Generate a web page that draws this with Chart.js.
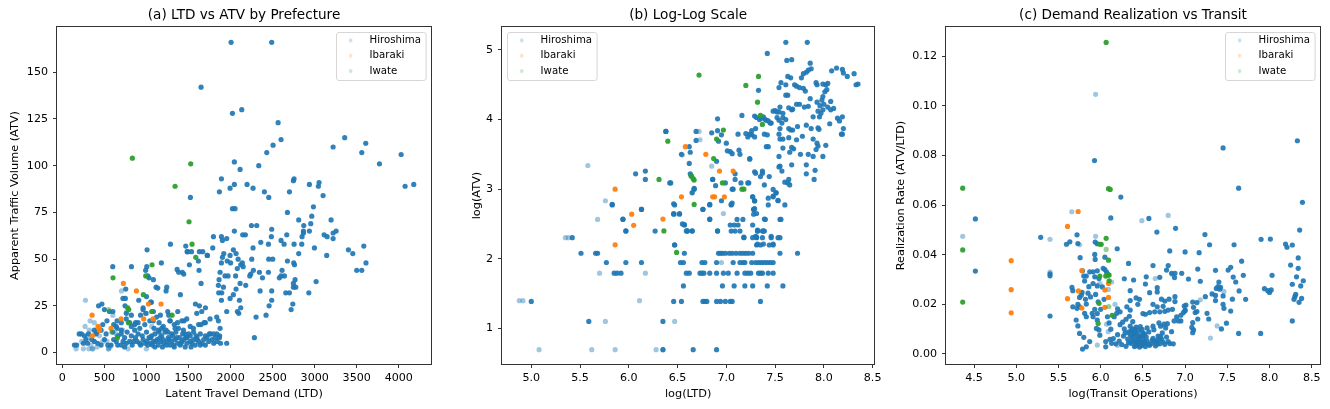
<!DOCTYPE html>
<html><head><meta charset="utf-8">
<script src="https://cdn.jsdelivr.net/npm/chart.js@4.4.1/dist/chart.umd.min.js"></script>
<style>html,body{margin:0;padding:0;background:#fff;}#wrap{position:relative;width:1330px;height:409px;overflow:hidden;background:#fff;}canvas{position:absolute;top:0;}</style>
</head><body><div id="wrap">
<canvas id="ca" width="440" height="409" style="left:0px"></canvas>
<canvas id="cb" width="445" height="409" style="left:440px"></canvas>
<canvas id="cc" width="445" height="409" style="left:885px"></canvas>
</div>
<script>
// ---------- category names ----------
const legendNames = ['Hiroshima', 'Ibaraki', 'Iwate'];

// ---------- panel (a): LTD vs ATV ----------
const aHiroshima = [[2006,166],[2489,166],[1649,142],[2022,128],[2133,130],[2565,123],[2600,114],[2505,111],[2430,107],[3357,115],[3219,110],[3607,112],[3560,107],[3770,101],[4028,106],[2045,102],[2335,100],
[4075,89],[4178,90],[2113,98],[1891,93],[2045,90],[1994,88],[2196,90],[2267,88],[1867,86],[2402,86],[2747,92],[2755,93],[2700,86],[2937,90],[3052,91],[3044,89],
[2454,83],[1522,83],[2022,77],[2053,77],[2676,75],[3100,84],[2985,78],[2965,73],[3195,71],[2810,71],
[2953,69],[2870,68],[2248,68],[2311,68],[2045,65],[2144,63],[2176,63],[2489,66],[2485,62],[2600,60],[2668,63],[2866,65],[2866,64],[2850,62],[2937,65],[3112,63],[3148,62],[3219,64],[3255,65],[3219,61],[1796,62],[1891,62],[1954,61],[1903,60],
[2846,58],[2755,58],[2636,58],[2450,58],[2359,59],[1788,56],[1919,53],[1994,52],[2267,56],[2252,50],[2454,50],[1285,58],[1483,54],[1535,54],[1669,54],[1723,52],[1007,55],
[2997,56],[3143,52],[2676,49],[2751,48],[2760,47],[2810,53],[3401,55],[3453,53],[3584,57],[3500,44],[3560,44],[3610,48],[2930,32],[3017,38],[2700,32],[2720,23],[2740,26],[2747,37],[2767,39],[2747,35],[2775,35],[2640,41],[2612,44],[2600,41],[2656,32],[2580,40],[2489,33],[2489,28],[2458,25],[2422,20],[2303,19],[2283,8],[2351,33],[2343,43],[2379,40],[2450,43],[2501,50],[2240,42],[2228,41],[2271,44],[2180,36],[2113,37],[2065,34],[2033,31],[2105,28],[2081,22],[2097,21],[2121,24],[1994,29],[1954,22],[1954,5],[1891,28],[1915,35],[1855,36],[1934,41],[1970,41],[1875,43],[1863,39],[1891,48],[1903,51],[1895,32],[1859,32],[2033,55],[2065,53],[2090,50],[2120,47],[2140,48],[2150,46],[2080,45],[2060,41],[2000,48],[1960,49],
[1003,46],[1015,41],[1082,39],[1114,35],[1134,34.5],[1241,35],[1233,33],[1177,48],[1364,44.5],[1383,43],[1427,43],[1443,42],[1403,31],[1467,57],[1490,54],[1510,47],[1629,54],[1617,49],[1625,44],[1649,37],[1724,52],[821,46],[599,46],[753,34],[749,29],[745,25],[908,28],[959,23],[991,21],[1058,27],[1082,22],[1165,20],[1253,22],[1265,20],[1372,22],[1280,17],[1368,16],[1233,12],[1181,13],[1150,11],[1256,11],[1300,10],[1340,13],[1439,12],[1459,10],[1503,10],[1558,13],[1649,15],[1685,16],[1756,18],[1835,19],[1855,17],[1875,13],[1748,10],[1796,10],[1835,10],[1867,8],[1479,18],[1447,17],[1629,25],[1582,26],[1598,21],[1657,22],[1701,24],
[1000,30],[990,44],[1030,40],[1050,27],[1080,17],[1120,19],[470,26],[430,25],[500,23],[530,17],[560,22],[610,15],[650,13],[600,22],[650,17],[700,12],[720,29],[760,21],[800,16],[820,20],[860,15],[900,16],[930,20],[960,24],
[143,4],[460,4],[579,4],[658,4],[722,6],[849,6],[888,6],[920,5],[1007,6],[1055,5],[1086,6],[1126,7],[1166,6],[1205,5],[1245,6],[1300,6],[1340,7],[1370,5],[1420,6],[1480,5],[1520,6],[1580,4],[1620,6],[1660,5],[1700,4],[1740,6],[1800,5],[1840,6],[1880,5],[1240,4],[1100,3],[1015,4],[1140,4],[1280,4],[1400,4],[1440,7],[1560,7],[1600,7],[1480,8],[960,7],[930,4],[800,6],[760,5],[700,4],[640,6],[540,4],[500,7],[420,5],[380,6],[300,5],
[1030,8],[1070,4],[1160,8],[1190,3],[1270,7],[1320,4],[1360,8],[1410,5],[1460,3],[1540,5],[1590,9],[1640,4],[1680,7],[1720,8],[1780,7],[1530,3],[1330,3],[1200,7],[1110,6],[1060,9],[980,5],[870,8],[830,4],[740,3],[610,7],
[226,10],[262,9],[400,10],[460,12],[520,10],[600,11],[660,9],[700,10],[740,8],[770,11],[820,9],[860,12],[900,10],[950,9],[1000,11],[1050,8],[1100,10],[1140,12],[1180,9],[1220,11],[1260,8],[1310,9],[1350,11],[1390,8],[1430,10],[1470,8],[1520,9],[1560,11],[1600,8],[1640,10],[1700,9],[1760,10],[1820,8],[1870,9],
[480,15],[640,14],[700,16],[760,18],[820,14],[870,16],[920,13],[980,15],[1040,17],[1090,13],[1150,16],[1200,14],[1280,17],[1330,15],[1380,13],[1420,17],[1520,14],[1620,15],[1700,16],[380,12],[410,11],[350,7],[310,10],[280,7],[200,10],[170,4],[250,5]];
const aHiroshimaFaint = [[274,28],[163,2],[357,2],[547,2],[567,3],[717,12],[702,33],[765,22],[1003,21],[1062,14],[329,17],[250,2],[314,2],[361,2],[551,2],[781,2],[999,2],[300,8],[320,12],[270,14],[440,9],[600,20],[530,6],[640,10],[380,16],[230,6],[340,4],[480,6],[410,3]];
const aIbaraki = [[725,37],[880,33],[353,20],[424,14],[436,13],[357,9],[579,13],[698,18],[967,18],[1023,26],[1078,18],[1173,26],[440,12]];
const aIwate = [[832,104],[1526,101],[1340,89],[1506,70],[1542,58],[1586,51],[602,40],[991,41],[1066,47],[963,31],[777,24],[789,23],[785,16],[654,8],[1062,22],[1304,20]];
const aIwateFaint = [[551,23],[587,11]];

// ---------- panel (b): log-log ----------
const bHiroshima = [[5.0,1.386],[6.35,1.099],[5.59,1.099],[6.90,0.693],[6.66,0.693],[6.35,0.693],
[6.46,1.386],[6.54,1.386],[6.76,1.386],[6.78,1.386],[6.80,1.386],[6.90,1.386],[6.94,1.386],[6.99,1.386],[7.04,1.386],[7.06,1.386],[7.35,1.386],
[6.56,1.609],[6.96,1.609],[7.08,1.609],[7.19,1.609],[7.27,1.609],[7.42,1.609],[7.58,1.609],
[5.85,1.792],[5.88,1.792],[5.92,1.792],[6.59,1.792],[6.62,1.792],[6.73,1.792],[6.75,1.792],[6.77,1.792],[6.83,1.792],[6.90,1.792],[6.97,1.792],[7.02,1.792],[7.11,1.792],[7.19,1.792],[7.22,1.792],[7.25,1.792],[7.33,1.792],[7.35,1.792],[7.37,1.792],[7.43,1.792],[7.48,1.792],
[5.77,1.946],[5.97,1.946],[6.13,1.946],[6.53,1.946],[6.56,1.946],[6.75,1.946],[6.78,1.946],[6.90,1.946],[7.07,1.946],[7.14,1.946],[7.17,1.946],[7.19,1.946],[7.26,1.946],[7.30,1.946],[7.33,1.946],[7.36,1.946],[7.39,1.946],[7.42,1.946],[7.45,1.946],[7.48,1.946],
[5.51,2.079],[5.66,2.079],[5.68,2.079],[6.57,2.079],[6.92,2.079],[6.94,2.079],[6.96,2.079],[6.99,2.079],[7.03,2.079],[7.06,2.079],[7.10,2.079],[7.14,2.079],[7.17,2.079],[7.20,2.079],[7.23,2.079],[7.27,2.079],[7.55,2.079],[7.73,2.079],
[6.47,2.197],[7.31,2.197],[7.35,2.197],[7.44,2.197],[7.48,2.197],
[5.42,2.303],[7.18,2.303],[7.27,2.303],[7.31,2.303],[7.37,2.303],[7.46,2.303],[7.53,2.303],[7.55,2.303],
[5.97,2.398],[6.27,2.398],[6.60,2.398],[6.65,2.398],[6.91,2.398],[7.05,2.398],[7.09,2.398],[7.14,2.398],[7.32,2.398],[7.37,2.398],[7.39,2.398],
[6.57,2.485],[7.04,2.485],[7.08,2.485],[7.12,2.485],[7.27,2.485],
[5.94,2.565],[6.83,2.565],[7.11,2.565],[7.17,2.565],[7.40,2.565],[7.55,2.565],[7.56,2.565],
[6.46,2.639],[6.52,2.639],[7.28,2.639],[6.13,2.708],[6.76,2.708],[7.28,2.708],
[5.83,2.773],[6.47,2.773],[6.83,2.773],[7.05,2.773],[7.43,2.773],[7.60,2.773],
[6.95,2.833],[7.29,2.833],[7.53,2.833],[7.27,2.890],[7.48,2.890],[7.51,2.944],
[7.06,3.0],[7.48,2.996],[6.67,3.0],[6.65,2.95],[6.67,3.01],
[6.43,3.09],[6.89,3.05],[6.99,3.09],[7.15,3.09],[7.23,3.09],[7.63,3.09],[7.65,3.06],[7.60,3.10],[7.39,3.06],[7.44,3.18],
[6.17,3.14],[6.86,3.14],[7.09,3.14],[7.64,3.14],[7.90,3.14],[7.82,3.22],
[6.07,3.22],[6.63,3.22],[6.64,3.19],[7.09,3.22],[6.17,3.26],[7.37,3.26],[7.37,3.23],[7.57,3.26],[7.91,3.27],[7.30,3.23],[7.29,3.25],[7.35,3.18],
[7.55,3.33],[7.82,3.35],[7.67,3.35],[7.54,3.32],[6.90,3.40],[7.24,3.43],
[6.54,3.50],[6.63,3.53],[7.01,3.55],[7.04,3.54],[7.06,3.51],[7.13,3.56],[7.14,3.50],[7.76,3.50],[7.84,3.50],[7.54,3.47],[7.89,3.47],[7.99,3.47],[7.65,3.53],[6.62,3.37],
[6.62,3.61],[7.43,3.61],[7.41,3.61],[7.67,3.60],[7.69,3.58],[7.58,3.59],[7.93,3.66],[7.94,3.62],[7.92,3.57],[8.02,3.63],
[6.69,3.70],[6.92,3.69],[7.0,3.66],[7.55,3.72],[7.58,3.72],[7.64,3.74],[7.72,3.71],[7.89,3.72],[7.78,3.76],
[6.38,3.83],[6.69,3.83],[6.85,3.81],[6.91,3.84],[6.95,3.78],[7.12,3.79],[7.20,3.80],[7.22,3.75],[7.26,3.78],[7.24,3.79],[7.29,3.75],[7.39,3.79],[7.42,3.78],[7.54,3.79],[8.18,3.79],[8.19,3.79],[8.20,3.87],
[7.26,3.84],[7.30,3.87],[7.46,3.95],[7.43,3.98],[7.55,3.87],[7.57,3.95],[7.64,3.87],[7.66,3.85],[7.68,3.85],[7.73,3.90],[7.82,3.92],[7.87,3.87],[7.94,3.88],[7.95,3.86],[8.06,3.94],[8.16,3.98],
[6.91,4.01],[7.16,4.06],[7.29,4.05],[7.31,4.03],[7.34,4.0],[7.36,4.02],[7.38,4.04],[7.40,4.0],[7.41,3.99],[7.45,3.95],[7.48,4.12],[7.52,4.11],[7.55,4.18],[7.58,4.09],[7.52,4.03],[7.54,3.99],[7.58,4.03],[7.61,4.0],[7.89,4.04],[7.955,4.04],[7.97,4.09],[7.99,4.14],[8.14,4.02],[8.19,4.04],[8.07,4.14],[8.10,4.16],[8.07,4.26],
[7.50,4.13],[7.54,4.11],[7.64,4.17],[7.67,4.14],[7.68,4.15],[7.72,4.22],[7.75,4.22],[7.80,4.18],[7.84,4.19],[7.61,4.35],[7.63,4.35],[7.33,4.42],[7.99,4.33],[8.01,4.40],[7.93,4.25],[7.96,4.20],[7.98,4.28],[8.0,4.22],[7.94,4.12],[8.04,4.18],[7.86,4.30],[7.81,4.41],
[7.54,4.46],[7.56,4.53],[7.61,4.50],[7.70,4.50],[7.72,4.48],[7.75,4.46],[7.79,4.45],[7.92,4.53],[7.93,4.50],[7.99,4.51],[8.02,4.50],[8.04,4.52],[8.03,4.43],[8.33,4.50],[8.35,4.51],[7.77,4.60],[7.63,4.62],[7.66,4.60],[8.08,4.70],[8.13,4.74],[8.19,4.72],[8.20,4.67],[8.24,4.62],[8.31,4.66],[7.84,4.71],[7.82,4.68],[7.79,4.66],[7.87,4.73],[7.86,4.81],[7.62,4.85],[7.67,4.86],[7.42,4.95],[7.61,5.11],[7.83,5.11],
[5.97,2.40],[5.94,2.57],[6.13,2.71],[5.83,2.78],[6.47,2.20],[6.46,2.65],[6.52,2.65],[6.57,2.49],[6.60,2.40],[6.65,2.40],[6.76,2.71],[6.83,2.78],[7.05,2.78],[6.91,2.40],[6.83,2.57],[7.18,2.31],[7.27,2.89],[7.29,2.83],[7.28,2.71],[7.32,2.40],[7.31,2.31],[6.86,3.14],[7.07,3.0],[7.06,2.80],[7.22,3.09],[7.43,2.87],[7.53,2.84],[7.29,2.72],[7.31,2.65],[7.39,2.57],[7.32,2.41],[7.38,2.40],[7.30,2.32],[7.46,2.32],[7.32,2.21],[7.38,2.21],[7.48,2.21],[7.48,2.90],[7.51,2.95],[7.24,3.44],[6.42,3.09],[6.38,3.83],[6.46,2.79],[6.55,2.50],[6.59,2.40]];
const bHiroshimaFaint = [[4.877,1.397],[4.915,1.397],[5.08,0.693],[5.62,0.693],[5.86,0.693],[6.28,0.693],[5.76,1.099],[6.47,1.099],[6.11,1.397],[5.70,1.792],[6.17,1.792],[5.35,2.303],[5.38,2.303],[5.68,2.565],[5.76,2.833],[5.58,3.34],[6.97,2.65],[6.95,1.946],[6.65,2.944],[6.67,3.0],[6.13,2.71],[6.35,0.693],[6.47,2.64],[6.72,3.83],[6.55,3.49],[6.73,3.71],[6.85,3.33]];
const bIbaraki = [[6.58,3.61],[6.79,3.50],[5.86,3.0],[6.03,2.64],[6.05,2.48],[5.86,2.20],[6.35,2.57],[6.54,2.89],[6.86,2.89],[6.88,2.89],[6.98,2.89],[6.93,3.26],[7.07,3.26]];
const bIwate = [[6.72,4.64],[7.20,4.49],[7.33,4.62],[7.32,4.25],[7.35,4.06],[7.37,3.93],[6.40,3.69],[6.90,3.72],[6.97,3.85],[6.87,3.44],[6.31,3.14],[6.64,3.19],[6.66,3.15],[6.67,3.13],[6.96,3.09],[7.16,3.0],[7.18,3.0],[6.67,2.78],[6.36,2.40],[6.49,2.09]];

// ---------- panel (c): realization rate vs transit ----------
const cHiroshima = [[4.516,0.0544],[4.516,0.0334],[5.40,0.0315],[5.40,0.0323],[5.40,0.0153],[5.29,0.0470],[5.927,0.0779],[6.239,0.0632],[6.12,0.0548],[6.571,0.0546],[6.666,0.0491],[6.887,0.0506],[6.818,0.0415],[7.0,0.0411],[7.166,0.0408],[7.235,0.0481],[7.29,0.0440],[7.45,0.0830],[7.634,0.0668],[8.33,0.0859],[8.39,0.0611],[8.357,0.0499],[7.58,0.0440],[7.67,0.0374],[7.90,0.0462],[8.01,0.0463],[8.19,0.0443],[8.207,0.0430],[8.27,0.0439],[8.25,0.0358],[8.34,0.0387],[8.34,0.0345],[8.32,0.0311],[8.40,0.0295],[8.37,0.0274],[8.27,0.0281],[8.31,0.0240],[8.30,0.0231],[8.29,0.0220],[8.38,0.0224],[8.35,0.0208],[8.27,0.0133],[7.895,0.0083],[7.94,0.0263],[7.98,0.0255],[8.0,0.0248],[8.02,0.0258],[8.03,0.0317],[7.634,0.0083],[7.717,0.0220],[7.69,0.0317],[7.64,0.0254],[7.57,0.0310],[7.51,0.0338],[7.54,0.0349],[7.36,0.0337],[7.15,0.0342],[7.04,0.0302],[7.18,0.0293],[7.40,0.0290],[7.60,0.0290],[7.37,0.0264],[7.39,0.0271],[7.42,0.0268],[7.41,0.0261],[7.32,0.0242],[7.36,0.0236],[7.45,0.0234],[7.56,0.0221],[7.36,0.0215],[7.24,0.0231],[7.09,0.0209],[7.14,0.0207],[7.01,0.0197],[7.10,0.0188],[6.98,0.0167],[7.0,0.0174],[7.12,0.0167],[7.14,0.0171],[7.15,0.0141],[7.09,0.0126],[7.08,0.0107],[7.10,0.0097],[7.09,0.0086],[7.45,0.0200],[7.46,0.0184],[7.54,0.0173],[7.26,0.0164],[7.28,0.0141],[7.49,0.0124],[7.43,0.0101],
[5.595,0.0442],[5.635,0.0452],[5.72,0.0480],[5.73,0.0445],[5.935,0.0451],[5.96,0.0444],[6.196,0.0424],[5.757,0.0388],[5.93,0.0401],[5.935,0.0381],[5.66,0.0268],[5.67,0.0255],[5.75,0.0228],[5.77,0.0237],[5.785,0.0335],[5.80,0.0314],[5.83,0.0314],[5.87,0.0331],[5.91,0.0331],[5.93,0.0311],[5.96,0.0335],[5.98,0.0304],[5.81,0.0294],[5.86,0.0271],[5.91,0.0284],[5.96,0.0274],[5.82,0.0220],[5.83,0.0201],[5.75,0.0190],[5.67,0.0190],[5.72,0.0184],[5.81,0.0164],[5.83,0.0150],[5.90,0.0164],[5.91,0.0150],[5.96,0.0137],[5.71,0.0137],[5.73,0.0113],[5.75,0.0083],[5.80,0.0067],[5.87,0.0050],[5.83,0.0029],[5.785,0.0020],[6.06,0.0050],[6.06,0.0029],[6.11,0.0059],[6.13,0.0043],[5.99,0.0076],[5.98,0.0097],[5.95,0.0103],[6.03,0.0345],[6.05,0.0340],[6.07,0.0330],[6.09,0.0320],[6.05,0.0390],[6.02,0.0270],[6.04,0.0220],[6.08,0.0150],[6.12,0.0100],[6.10,0.0125],[5.94,0.0240],[5.97,0.0210],[5.88,0.0230],[5.85,0.0245],[5.78,0.0248],[5.73,0.0200],[5.93,0.0180],[5.96,0.0163],[6.0,0.0180],
[6.33,0.0365],[6.62,0.0356],[6.80,0.0356],[6.96,0.0325],[6.875,0.0308],[6.78,0.0338],[6.84,0.0325],[6.88,0.0325],[6.70,0.0309],[6.53,0.0282],[6.39,0.0298],[6.28,0.0303],[6.35,0.0255],[6.46,0.0220],[6.35,0.0215],[6.54,0.0311],[6.58,0.0247],[6.67,0.0267],[6.67,0.0250],[6.72,0.0221],[6.76,0.0213],[6.81,0.0221],[6.88,0.0231],[6.88,0.0211],[6.99,0.0193],[7.0,0.0177],[6.58,0.0167],[6.64,0.0170],[6.70,0.0170],[6.76,0.0172],[6.80,0.0177],[6.35,0.0177],[6.31,0.0190],[6.23,0.0170],[6.20,0.0182],[6.19,0.0164],[6.16,0.0150],[6.42,0.0226],[6.44,0.0200],[6.50,0.0163],[6.53,0.0160],[6.62,0.0200],[6.67,0.0190],[6.74,0.0192],[6.85,0.0180],[6.90,0.0150],[6.87,0.0133],[6.92,0.0133],[6.95,0.0156],[6.95,0.0133],
[6.15,0.0062],[6.18,0.0041],[6.20,0.0078],[6.22,0.0052],[6.23,0.0118],[6.25,0.0038],[6.26,0.0128],[6.27,0.0072],[6.28,0.0101],[6.30,0.0031],[6.30,0.0140],[6.32,0.0060],[6.33,0.0088],[6.34,0.0152],[6.35,0.0112],[6.36,0.0043],[6.37,0.0069],[6.38,0.0100],[6.38,0.0130],[6.39,0.0051],[6.40,0.0030],[6.41,0.0082],[6.42,0.0108],[6.43,0.0058],[6.44,0.0040],[6.45,0.0093],[6.46,0.0028],[6.47,0.0071],[6.48,0.0049],[6.49,0.0099],[6.50,0.0038],[6.51,0.0061],[6.52,0.0080],[6.53,0.0030],[6.55,0.0052],[6.57,0.0089],[6.60,0.0042],[6.62,0.0063],[6.63,0.0098],[6.65,0.0033],[6.66,0.0054],[6.68,0.0072],[6.70,0.0041],[6.71,0.0112],[6.72,0.0060],[6.74,0.0048],[6.75,0.0120],[6.76,0.0039],[6.78,0.0068],[6.80,0.0050],[6.82,0.0042],[6.84,0.0090],[6.86,0.0041],[6.42,0.0034],[6.45,0.0061],[6.40,0.0071],[6.36,0.0093],[6.47,0.0110],[6.51,0.0045],[6.58,0.0035],[6.64,0.0048],[6.69,0.0058],[6.73,0.0085],[6.77,0.0105],[6.79,0.0122],[6.43,0.0048],[6.49,0.0072],
[6.37,0.0055],[6.39,0.0086],[6.41,0.0040],[6.44,0.0075],[6.46,0.0052],[6.48,0.0033],[6.50,0.0085],[6.52,0.0047],[6.54,0.0068],[6.41,0.0098],[6.35,0.0078],[6.33,0.0045],[6.29,0.0085],[6.56,0.0040],[6.61,0.0055],[6.67,0.0040],[6.71,0.0070],[6.62,0.0112],[6.69,0.0125],[6.55,0.0105]];
const cHiroshimaFaint = [[4.366,0.0474],[5.40,0.0462],[5.658,0.0573],[5.94,0.1046],[6.488,0.0537],[6.646,0.0304],[7.30,0.0064],[6.80,0.0558],[5.94,0.0474],[5.75,0.0440],[5.40,0.0330],[6.17,0.0200],[6.09,0.0260],[5.96,0.0036],[6.09,0.0090],[6.20,0.0035],[6.85,0.0320],[7.38,0.0113],[7.46,0.0252],[7.18,0.0218],[6.13,0.0290],[5.99,0.0285],[6.07,0.0120]];
const cIbaraki = [[4.94,0.0376],[4.94,0.0259],[4.94,0.0166],[5.607,0.0514],[5.733,0.0574],[5.607,0.0223],[5.737,0.0254],[5.777,0.0336],[5.777,0.0185],[6.05,0.0258],[6.093,0.0284],[6.093,0.0228],[6.05,0.0188]];
const cIwate = [[4.366,0.0668],[4.366,0.0419],[4.366,0.0209],[6.065,0.1255],[6.093,0.0666],[6.113,0.0663],[6.065,0.0466],[6.093,0.0378],[5.99,0.0442],[6.006,0.0442],[6.085,0.0318],[6.10,0.0318],[6.06,0.0314],[5.99,0.0314],[6.10,0.0295],[5.98,0.0204],[6.136,0.0156],[5.97,0.0123]];
const cIwateFaint = [[6.065,0.0421],[6.097,0.0191]];

// ---------- tick values and labels ----------
const aXTicks = [0,500,1000,1500,2000,2500,3000,3500,4000];
const aXLabels = ['0','500','1000','1500','2000','2500','3000','3500','4000'];
const aYTicks = [0,25,50,75,100,125,150];
const aYLabels = ['0','25','50','75','100','125','150'];
const bXTicks = [5.0,5.5,6.0,6.5,7.0,7.5,8.0,8.5];
const bXLabels = ['5.0','5.5','6.0','6.5','7.0','7.5','8.0','8.5'];
const bYTicks = [1,2,3,4,5];
const bYLabels = ['1','2','3','4','5'];
const cXTicks = [4.5,5.0,5.5,6.0,6.5,7.0,7.5,8.0,8.5];
const cXLabels = ['4.5','5.0','5.5','6.0','6.5','7.0','7.5','8.0','8.5'];
const cYTicks = [0,0.02,0.04,0.06,0.08,0.10,0.12];
const cYLabels = ['0.00','0.02','0.04','0.06','0.08','0.10','0.12'];

// ---------- styling ----------
Chart.defaults.font.family = "'DejaVu Sans', sans-serif";
Chart.defaults.color = '#000';
const COL = {
  hiro: 'rgba(31,119,180,0.92)', hiroFaint: 'rgba(31,119,180,0.42)',
  iba: 'rgba(255,127,14,0.95)', iwa: 'rgba(44,160,44,0.95)', iwaFaint: 'rgba(44,160,44,0.5)'
};
const LEG_COL = ['rgba(31,119,180,0.25)','rgba(255,127,14,0.25)','rgba(44,160,44,0.25)'];

function legendDot(c) {
  const cv = document.createElement('canvas');
  cv.width = 24; cv.height = 8;
  const g = cv.getContext('2d');
  g.fillStyle = c; g.beginPath(); g.arc(3.2, 4, 1.9, 0, Math.PI * 2); g.fill();
  return cv;
}
const legendDots = LEG_COL.map(legendDot);

function ds(label, pts, color, order) {
  return { label, data: pts.map(p => ({x: p[0], y: p[1]})), backgroundColor: color,
    borderWidth: 0, pointRadius: 2.6, pointHoverRadius: 2.6, order };
}

const framePlugin = {
  id: 'frames',
  beforeDraw(chart) {
    const o = chart.options.plugins.frames;
    const ca = chart.chartArea, lg = chart.legend, ctx = chart.ctx;
    const fw = 89.6, fh = 48;
    const fl = o.corner === 'left' ? ca.left + 5 : ca.right - 5.5 - fw;
    const ft = ca.top + 5;
    const textX = fl + 33.6;
    lg.left = textX - 20.5; lg.right = lg.left + lg.width;
    lg.top = ft - 2; lg.bottom = ca.bottom;
    ctx.save();
    ctx.beginPath();
    const x = Math.round(fl) + 0.5, y = Math.round(ft) + 0.5, r = 2.5;
    ctx.moveTo(x + r, y); ctx.lineTo(x + fw - r, y); ctx.arcTo(x + fw, y, x + fw, y + r, r);
    ctx.lineTo(x + fw, y + fh - r); ctx.arcTo(x + fw, y + fh, x + fw - r, y + fh, r);
    ctx.lineTo(x + r, y + fh); ctx.arcTo(x, y + fh, x, y + fh - r, r);
    ctx.lineTo(x, y + r); ctx.arcTo(x, y, x + r, y, r); ctx.closePath();
    ctx.fillStyle = 'rgba(255,255,255,0.8)'; ctx.fill();
    ctx.strokeStyle = '#d6d6d6'; ctx.lineWidth = 1; ctx.stroke();
    ctx.restore();
  },
  afterDraw(chart) {
    const ca = chart.chartArea, ctx = chart.ctx;
    ctx.save();
    ctx.strokeStyle = '#333'; ctx.lineWidth = 1;
    ctx.strokeRect(Math.round(ca.left) - 0.5, Math.round(ca.top) - 0.5,
      Math.round(ca.right) - Math.round(ca.left) + 1, Math.round(ca.bottom) - Math.round(ca.top) + 1);
    ctx.restore();
  }
};

function axis(min, max, ticks, labels, title, titlePad, fitSize, horizontal, tickPad) {
  return {
    type: 'linear', min, max,
    afterBuildTicks: s => { s.ticks = ticks.map(v => ({value: v})); },
    afterFit: s => { if (horizontal) s.height = fitSize; else s.width = fitSize; },
    ticks: { autoSkip: false, maxRotation: 0, padding: tickPad, color: '#000', font: {size: 11.1},
      callback: (v) => { const k = ticks.findIndex(t => Math.abs(t - v) < 1e-9); return k >= 0 ? labels[k] : ''; } },
    grid: { display: true, drawOnChartArea: false, drawTicks: true, tickLength: 4, color: '#333', lineWidth: 1 },
    border: { display: false },
    title: { display: true, text: title, color: '#000', font: {size: 11.3},
      padding: horizontal ? {top: 0, bottom: titlePad} : {top: titlePad, bottom: 0} }
  };
}

function makeChart(id, p) {
  return new Chart(document.getElementById(id), {
    type: 'scatter',
    data: { datasets: [
      ds(legendNames[0], p.hiroFaint, COL.hiroFaint, 5),
      ds(legendNames[0], p.hiro, COL.hiro, 4),
      ds(legendNames[1], p.iba, COL.iba, 2),
      ds(legendNames[2], p.iwaFaint, COL.iwaFaint, 1),
      ds(legendNames[2], p.iwa, COL.iwa, 0)
    ]},
    options: {
      responsive: false, animation: false, events: [],
      layout: { padding: { left: 0, right: p.rightPad, top: 0, bottom: 0 } },
      scales: {
        x: axis(p.xr[0], p.xr[1], p.xt, p.xl, p.xTitle, 7.9, 45, true, 3.5),
        y: axis(p.yr[0], p.yr[1], p.yt, p.yl, p.yTitle, p.yTitlePad, p.yW, false, 5)
      },
      plugins: {
        title: { display: true, text: p.title, fullSize: false, color: '#000',
          font: {size: 13.6, weight: 'normal'}, padding: {top: 7.1, bottom: 3.6} },
        legend: { display: true, position: 'chartArea', align: 'start',
          labels: { usePointStyle: true, padding: 5.2, color: '#000', font: {size: 10.2},
            generateLabels: () => legendNames.map((n, k) => ({ text: n, pointStyle: legendDots[k],
              fillStyle: 'rgba(0,0,0,0)', strokeStyle: 'rgba(0,0,0,0)', lineWidth: 0, hidden: false, datasetIndex: k })) } },
        tooltip: { enabled: false },
        frames: { corner: p.corner }
      }
    },
    plugins: [framePlugin]
  });
}

makeChart('ca', { hiro: aHiroshima, hiroFaint: aHiroshimaFaint, iba: aIbaraki, iwa: aIwate, iwaFaint: aIwateFaint,
  xr: [-64, 4383], yr: [-6.1, 174.2], xt: aXTicks, xl: aXLabels, yt: aYTicks, yl: aYLabels,
  title: '(a) LTD vs ATV by Prefecture', xTitle: 'Latent Travel Demand (LTD)', yTitle: 'Apparent Traffic Volume (ATV)',
  yTitlePad: 8.5, yW: 57, rightPad: 9, corner: 'right' });
makeChart('cb', { hiro: bHiroshima, hiroFaint: bHiroshimaFaint, iba: bIbaraki, iwa: bIwate, iwaFaint: [],
  xr: [4.70, 8.517], yr: [0.487, 5.33], xt: bXTicks, xl: bXLabels, yt: bYTicks, yl: bYLabels,
  title: '(b) Log-Log Scale', xTitle: 'log(LTD)', yTitle: 'log(ATV)',
  yTitlePad: 29.9, yW: 62, rightPad: 10, corner: 'left' });
makeChart('cc', { hiro: cHiroshima, hiroFaint: cHiroshimaFaint, iba: cIbaraki, iwa: cIwate, iwaFaint: cIwateFaint,
  xr: [4.168, 8.598], yr: [-0.00403, 0.1317], xt: cXTicks, xl: cXLabels, yt: cYTicks, yl: cYLabels,
  title: '(c) Demand Realization vs Transit', xTitle: 'log(Transit Operations)', yTitle: 'Realization Rate (ATV/LTD)',
  yTitlePad: 9.2, yW: 61, rightPad: 10, corner: 'right' });
</script>
</body></html>
